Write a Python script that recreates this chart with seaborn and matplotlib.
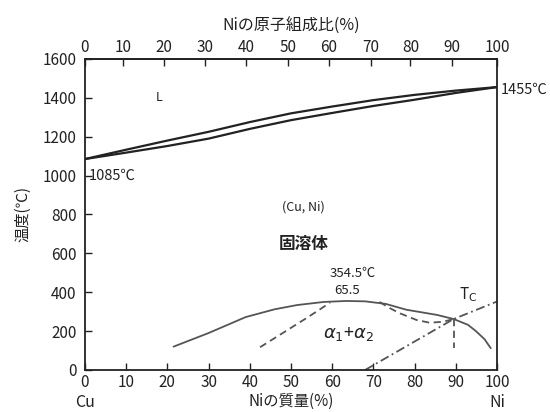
import numpy as np
import pandas as pd
import matplotlib
matplotlib.use("Agg")
import matplotlib.pyplot as plt
import seaborn as sns

# liquidus / solidus (mass % Ni, temperature in C)
ni_mass = [0, 10, 20, 30, 40, 50, 60, 70, 80, 90, 100]
liquidus = [1085, 1133, 1180, 1225, 1275, 1320, 1355, 1388, 1415, 1437, 1455]
solidus = [1085, 1118, 1152, 1190, 1240, 1285, 1322, 1358, 1390, 1425, 1455]

# miscibility gap (solid curve)
gap_x = [21.5, 30, 39, 46, 51.5, 58, 63.5, 68, 73, 78, 85.5, 89.5, 93, 95, 97, 98.5]
gap_t = [120, 190, 272, 312, 334, 350, 355, 353, 340, 310, 283, 262, 232, 198, 158, 112]

# spinodal-like dashed curves
dash_left_x = [42.5, 48, 54, 59.5]
dash_left_t = [117, 190, 270, 346]
dash_right_x = [71.5, 74, 76.5, 80.5, 83.7, 86.9, 89.5]
dash_right_t = [350, 318, 291, 257, 243, 248, 262]
dash_vert_x = [89.5, 89.5]
dash_vert_t = [262, 112]

# Curie temperature line
tc_x = [68, 89.5, 100]
tc_t = [0, 262, 352]

# tick labels
mass_ticks = [0, 10, 20, 30, 40, 50, 60, 70, 80, 90, 100]
atomic_labels = [0, 10, 20, 30, 40, 50, 60, 70, 80, 90, 100]
atomic_pos = [0, 9.3, 19.2, 29.2, 39.2, 49.2, 59.2, 69.4, 79.0, 89.0, 100]
temp_ticks = [0, 200, 400, 600, 800, 1000, 1200, 1400, 1600]

sns.set_theme(style="ticks")
plt.rcParams['font.family'] = ['Noto Sans CJK JP', 'DejaVu Sans']
plt.rcParams['axes.unicode_minus'] = False

fig = plt.figure(figsize=(5.5, 4.12), dpi=100)
ax = fig.add_axes([0.1545, 0.102, 0.749, 0.755])

liq = pd.DataFrame({'x': ni_mass, 'L': liquidus, 'S': solidus})
sns.lineplot(data=liq, x='x', y='L', ax=ax, color='#222222', lw=1.6)
sns.lineplot(data=liq, x='x', y='S', ax=ax, color='#222222', lw=1.6)

sns.lineplot(x=gap_x, y=gap_t, ax=ax, color='#555555', lw=1.3, sort=False)
sns.lineplot(x=dash_left_x, y=dash_left_t, ax=ax, color='#555555', lw=1.3,
             linestyle=(0, (4, 2.5)), sort=False)
sns.lineplot(x=dash_right_x, y=dash_right_t, ax=ax, color='#555555', lw=1.3,
             linestyle=(0, (4, 2.5)), sort=False)
ax.plot(dash_vert_x, dash_vert_t, color='#555555', lw=1.3, linestyle=(0, (4, 2.5)))
sns.lineplot(x=tc_x, y=tc_t, ax=ax, color='#555555', lw=1.3,
             linestyle=(0, (5, 2, 1, 2)), sort=False)

ax.set_xlim(0, 100)
ax.set_ylim(0, 1600)
ax.set_xticks(mass_ticks)
ax.set_yticks(temp_ticks)
ax.tick_params(axis='both', direction='in', length=5, width=1, labelsize=11,
               colors='#222222', pad=3)
ax.tick_params(axis='y', pad=6)
for s in ax.spines.values():
    s.set_color('#222222')
    s.set_linewidth(1.3)
    s.set_visible(True)

ax.set_xlabel('Niの質量(%)', fontsize=11, labelpad=1, color='#222222')
ax.set_ylabel('温度(℃)', fontsize=11, labelpad=8, color='#222222')

top = ax.secondary_xaxis('top')
top.set_xticks(atomic_pos, labels=[str(v) for v in atomic_labels])
top.tick_params(direction='in', length=5, width=1, labelsize=11, colors='#222222', pad=2)
top.set_xlabel('Niの原子組成比(%)', fontsize=11.5, labelpad=6, color='#222222')

tx = ax.get_xaxis_transform()
ax.text(0, -0.078, 'Cu', transform=tx, ha='center', va='top', fontsize=11.5, color='#222222')
ax.text(100, -0.078, 'Ni', transform=tx, ha='center', va='top', fontsize=11.5, color='#222222')

ax.text(18, 1400, 'L', ha='center', va='center', fontsize=9, color='#222222')
ax.text(0.8, 1000, '1085℃', ha='left', va='center', fontsize=10.5, color='#222222')
ax.text(101, 1440, '1455℃', ha='left', va='center', fontsize=10.5, color='#222222',
        clip_on=False)
ax.text(53, 840, '(Cu, Ni)', ha='center', va='center', fontsize=9, color='#222222')
ax.text(53, 650, '固溶体', ha='center', va='center', fontsize=12, fontweight='bold',
        color='#222222')
ax.text(65, 495, '354.5℃', ha='center', va='center', fontsize=9.5, color='#222222')
ax.text(63.5, 410, '65.5', ha='center', va='center', fontsize=9.5, color='#222222')
ax.text(64, 185, r'$\alpha_1$+$\alpha_2$', ha='center', va='center', fontsize=13,
        color='#222222')
ax.text(93, 385, r'T$_\mathrm{C}$', ha='center', va='center', fontsize=11, color='#222222')

fig.savefig('out.png', dpi=100, facecolor='white')
